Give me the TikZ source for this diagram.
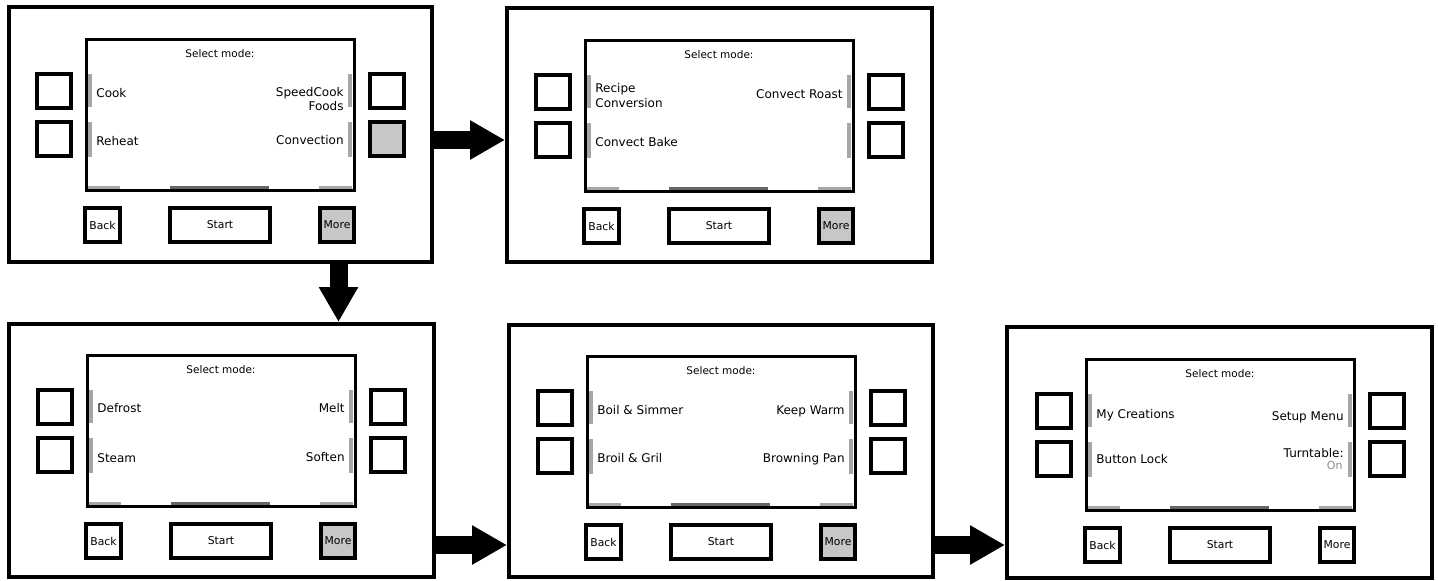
\documentclass[tikz,border=0pt]{standalone}
\usepackage{fontspec}
\setmainfont{DejaVu Sans}
\usetikzlibrary{arrows.meta}
\tikzset{
  panel/.style={draw, line width=2pt, inner sep=0pt},
  screen/.style={draw, line width=1.5pt, minimum width=134pt, minimum height=75.5pt, inner sep=0pt},
  sbtn/.style={draw, line width=2pt, minimum size=17pt, inner sep=0pt},
  bbtn/.style={draw, line width=2pt, minimum height=17pt, inner sep=0pt, font=\fontsize{5.4}{6.4}\selectfont},
  grayfill/.style={fill=black!22},
  nofill/.style={},
  title/.style={inner sep=0pt, anchor=base, font=\fontsize{5.25}{6.3}\selectfont},
  lbl/.style={inner sep=0pt, font=\fontsize{6}{7.2}\selectfont},
  lleft/.style={lbl, anchor=base west},
  lright/.style={lbl, anchor=base east},
  stripc/.style={fill=black!35},
  stripd/.style={fill=black!60},
  bigarrow/.style={line width=9pt, -{Triangle[length=17.5pt, width=18.5pt]}}
}
\newcommand\mwinner[3]{%
  \node[screen] (#1scr) at (220,114.5) {};
  \node[sbtn] (#1lba) at (54,91) {};
  \node[sbtn] (#1lbb) at (54,138.5) {};
  \node[sbtn] (#1rba) at (387,91) {};
  \node[sbtn,#2] (#1rbb) at (387,138.5) {};
  \node[bbtn, minimum width=17.5pt] (#1back) at (102.5,225) {Back};
  \node[bbtn, minimum width=50pt] (#1start) at (220,225) {Start};
  \node[bbtn, minimum width=17pt, #3] (#1more) at (337,225) {More};
  \node[title] (#1title) at (220,57) {Select mode:};
  \fill[stripc] (88,74) rectangle (92,107);
  \fill[stripc] (88,122) rectangle (92,157);
  \fill[stripc] (348,74) rectangle (352,107);
  \fill[stripc] (348,122) rectangle (352,157);
  \fill[stripc] (88,185.5) rectangle (120,188.5);
  \fill[stripd] (170,185.5) rectangle (269,188.5);
  \fill[stripc] (319,185.5) rectangle (352,188.5);
}
\begin{document}
\begin{tikzpicture}[x=0.5pt, y=-0.5pt]
\useasboundingbox (0,0) rectangle (1438,580);
% outer panels
\node[panel, minimum width=211.5pt, minimum height=127.5pt] (p1) at (220.5,134.5) {};
\node[panel, minimum width=212.5pt, minimum height=127pt] (p2) at (719.5,135) {};
\node[panel, minimum width=212.5pt, minimum height=126.5pt] (p3) at (221.5,450.5) {};
\node[panel, minimum width=212pt, minimum height=126pt] (p4) at (721,451) {};
\node[panel, minimum width=212.5pt, minimum height=125.5pt] (p5) at (1219.5,452.5) {};
% panel 1
\begin{scope}
  \mwinner{p1}{grayfill}{grayfill}
  \node[lleft] (p1la) at (96,97) {Cook};
  \node[lleft] (p1lb) at (96,145) {Reheat};
  \node[lright] (p1raa) at (344,96) {SpeedCook};
  \node[lright] (p1rab) at (344,110.7) {Foods};
  \node[lright] (p1rb) at (344,144) {Convection};
\end{scope}
% panel 2
\begin{scope}[shift={(499,1)}]
  \mwinner{p2}{nofill}{grayfill}
  \node[lleft] (p2laa) at (96,91) {Recipe};
  \node[lleft] (p2lab) at (96,106) {Conversion};
  \node[lleft] (p2lb) at (96,145) {Convect Bake};
  \node[lright] (p2ra) at (344,97) {Convect Roast};
\end{scope}
% panel 3
\begin{scope}[shift={(1,316)}]
  \mwinner{p3}{nofill}{grayfill}
  \node[lleft] (p3la) at (96,96) {Defrost};
  \node[lleft] (p3lb) at (96,146) {Steam};
  \node[lright] (p3ra) at (344,96) {Melt};
  \node[lright] (p3rb) at (344,145) {Soften};
\end{scope}
% panel 4
\begin{scope}[shift={(501,317)}]
  \mwinner{p4}{nofill}{grayfill}
  \node[lleft] (p4la) at (96,97) {Boil \& Simmer};
  \node[lleft] (p4lb) at (96,145) {Broil \& Gril};
  \node[lright] (p4ra) at (344,97) {Keep Warm};
  \node[lright] (p4rb) at (344,145) {Browning Pan};
\end{scope}
% panel 5
\begin{scope}[shift={(1000,320)}]
  \mwinner{p5}{nofill}{nofill}
  \node[lleft] (p5la) at (96,98) {My Creations};
  \node[lleft] (p5lb) at (96,143) {Button Lock};
  \node[lright] (p5ra) at (344,100) {Setup Menu};
  \node[lright] (p5rba) at (344,137) {Turntable:};
  \node[lright, text=black!45, font=\fontsize{5.5}{6.6}\selectfont] (p5rbb) at (343,149) {On};
\end{scope}
% arrows
\path (p1rbb.center -| p1.east) ++(0,1.5) coordinate (a12);
\draw[bigarrow] (a12) -- (a12 -| p2.west);
\path (p1more.center |- p1.south) ++(1.5,0) coordinate (a13);
\draw[bigarrow] (a13) -- (a13 |- p3.north);
\path (p3more.center -| p3.east) ++(0,4) coordinate (a34);
\draw[bigarrow] (a34) -- (a34 -| p4.west);
\path (p4more.center -| p4.east) ++(0,3) coordinate (a45);
\draw[bigarrow] (a45) -- (a45 -| p5.west);
\end{tikzpicture}
\end{document}
